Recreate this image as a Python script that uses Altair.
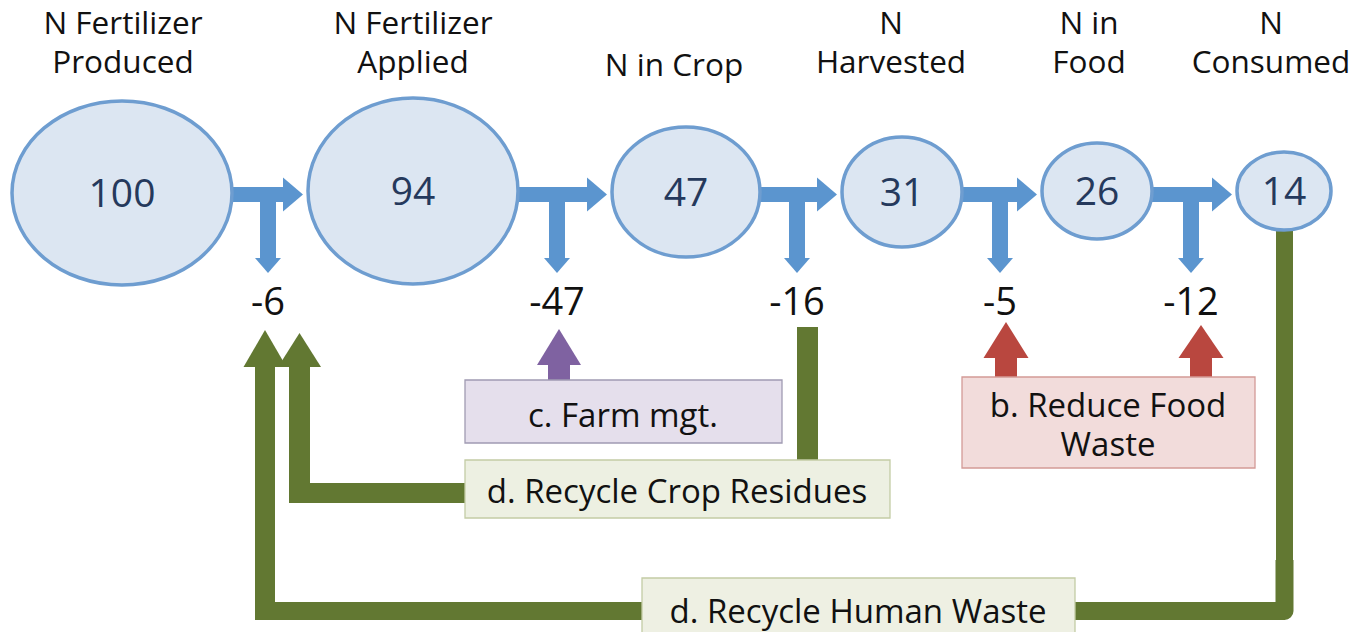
import altair as alt
import pandas as pd

# ---------------- data ----------------
NODE_TITLES = ["N Fertilizer\nProduced", "N Fertilizer\nApplied", "N in Crop",
               "N\nHarvested", "N in\nFood", "N\nConsumed"]
NODE_VALUES = [100, 94, 47, 31, 26, 14]
LOSS_VALUES = [-6, -47, -16, -5, -12]
STRATEGY_LABELS = ["c. Farm mgt.", "d. Recycle Crop Residues",
                   "b. Reduce Food\nWaste", "d. Recycle Human Waste"]

# ---------------- layout (pixel positions of the diagram) ----------------
NODE_CX = [122, 413, 686, 902, 1097, 1284]
NODE_CY = [193, 191, 192, 192, 191, 191]
NODE_RX = [110, 105, 74, 60, 55, 47]
NODE_RY = [92, 93, 65, 55, 48, 39]
TITLE_CX = [123, 413, 674, 891, 1089, 1271]
TITLE_Y = [34, 34, 76, 34, 34, 34]
LOSS_X = [268, 557, 797, 1000, 1191]

STRAT_BOX = [(465, 782, 380, 443), (465, 890, 460, 518), (962, 1255, 377, 468), (642, 1075, 578, 660)]
STRAT_TEXT_X = [623, 677, 1108, 858]
STRAT_TEXT_Y = [427, 503, 417, 623]
STRAT_FILL = ["#e5dfec", "#edf0e2", "#f2dcdb", "#eef0e3"]
STRAT_STROKE = ["#a09bb2", "#c3cca5", "#d39a97", "#c3cca5"]

BLUE = "#5b95cf"
GREEN = "#627832"
PURPLE = "#7f62a1"
RED = "#b9473f"
FONT = "Open Sans"

# ---------------- build tables ----------------
rects = []   # x, x2, y, y2, color
heads = []   # x, y, path, size, color


def head_up(tx, ty, yb, w, color):
    h = (yb - ty) / w
    heads.append(dict(x=tx, y=(ty + yb) / 2, path=f"M-1,{h:.3f}L1,{h:.3f}L0,{-h:.3f}Z", size=w * w, color=color))


def head_down(tx, ty, yb, w, color):
    h = (ty - yb) / w
    heads.append(dict(x=tx, y=(ty + yb) / 2, path=f"M-1,{-h:.3f}L1,{-h:.3f}L0,{h:.3f}Z", size=w * w, color=color))


def head_right(tx, ty, xb, hgt, color):
    h = (tx - xb) / hgt
    heads.append(dict(x=(tx + xb) / 2, y=ty, path=f"M{-h:.3f},-1L{h:.3f},0L{-h:.3f},1Z", size=hgt * hgt, color=color))


# green recycle paths (drawn first, under everything)
rects += [
    dict(x=1276, x2=1293, y=225, y2=612, color=GREEN),
    dict(x=255, x2=1285, y=602, y2=620, color=GREEN),
    dict(x=255, x2=275, y=366, y2=620, color=GREEN),
    dict(x=797, x2=818, y=327, y2=462, color=GREEN),
    dict(x=289, x2=470, y=483, y2=503, color=GREEN),
    dict(x=289, x2=310, y=366, y2=503, color=GREEN),
]
head_up(265, 330, 367, 43, GREEN)
head_up(299.5, 333, 367, 43, GREEN)

# blue flow arrows with T-shaped losses
for i in range(5):
    x_start = NODE_CX[i] + NODE_RX[i] - 6
    tip = NODE_CX[i + 1] - NODE_RX[i + 1] - 5
    rects.append(dict(x=x_start, x2=tip - 19, y=187, y2=202, color=BLUE))
    head_right(tip, 194.5, tip - 20, 34, BLUE)
    rects.append(dict(x=LOSS_X[i] - 8, x2=LOSS_X[i] + 8, y=195, y2=260, color=BLUE))
    head_down(LOSS_X[i], 273, 258, 26, BLUE)

# strategy arrows
rects += [
    dict(x=548, x2=570, y=363, y2=381, color=PURPLE),
    dict(x=995, x2=1017, y=356, y2=378, color=RED),
    dict(x=1190, x2=1212, y=356, y2=378, color=RED),
]
head_up(559, 329, 365, 44, PURPLE)
head_up(1006, 322, 358, 45, RED)
head_up(1201, 325, 358, 45, RED)

rect_df = pd.DataFrame(rects)
head_df = pd.DataFrame(heads)

# rounded outer corner of the human-waste loop
corner_df = pd.DataFrame([dict(x=1284.5, y=560, o=0), dict(x=1284.5, y=611, o=1), dict(x=1230, y=611, o=2)])

# ellipses
ell = []
for i, v in enumerate(NODE_VALUES):
    k = NODE_RY[i] / NODE_RX[i]
    path = f"M-1,0A1,{k:.4f} 0 1,0 1,0A1,{k:.4f} 0 1,0 -1,0Z"
    ell.append(dict(x=NODE_CX[i], y=NODE_CY[i], path=path, size=(2 * NODE_RX[i]) ** 2, value=v))
ell_df = pd.DataFrame(ell)

# boxes
box_df = pd.DataFrame([dict(x=b[0], x2=b[1], y=b[2], y2=b[3], fill=f, stroke=s)
                       for b, f, s in zip(STRAT_BOX, STRAT_FILL, STRAT_STROKE)])

# texts
texts = []
for i, t in enumerate(NODE_TITLES):
    texts.append(dict(x=TITLE_CX[i], y=TITLE_Y[i], text=t, size=31.5, color="#111111"))
for i, v in enumerate(NODE_VALUES):
    texts.append(dict(x=NODE_CX[i], y=NODE_CY[i] + 14, text=str(v), size=39, color="#25395c"))
for i, v in enumerate(LOSS_VALUES):
    texts.append(dict(x=LOSS_X[i], y=315, text=str(v), size=38, color="#111111"))
for i, t in enumerate(STRATEGY_LABELS):
    texts.append(dict(x=STRAT_TEXT_X[i], y=STRAT_TEXT_Y[i], text=t, size=33, color="#111111"))
text_df = pd.DataFrame(texts)

# ---------------- chart ----------------
xs = alt.Scale(domain=[8, 1351], nice=False, zero=False)
ys = alt.Scale(domain=[8, 632], nice=False, zero=False, reverse=True)
X = alt.X("x:Q", scale=xs, axis=None)
Y = alt.Y("y:Q", scale=ys, axis=None)

green_layer = alt.Chart(rect_df).mark_rect().encode(
    x=X, x2="x2:Q", y=Y, y2="y2:Q", color=alt.Color("color:N", scale=None))

corner_layer = alt.Chart(corner_df).mark_line(
    color=GREEN, strokeWidth=18, strokeJoin="round", strokeCap="butt").encode(
    x=X, y=Y, order="o:Q")

head_layer = alt.Chart(head_df).mark_point(filled=True, opacity=1, strokeWidth=0).encode(
    x=X, y=Y, shape=alt.Shape("path:N", scale=None), size=alt.Size("size:Q", scale=None),
    color=alt.Color("color:N", scale=None))

ell_layer = alt.Chart(ell_df).mark_point(
    filled=True, opacity=1, fill="#dce6f2", stroke="#6e9dd0", strokeWidth=3.5).encode(
    x=X, y=Y, shape=alt.Shape("path:N", scale=None), size=alt.Size("size:Q", scale=None))

box_layer = alt.Chart(box_df).mark_rect(strokeWidth=1.3).encode(
    x=X, x2="x2:Q", y=Y, y2="y2:Q",
    fill=alt.Fill("fill:N", scale=None), stroke=alt.Stroke("stroke:N", scale=None))

text_layer = alt.Chart(text_df).mark_text(
    font=FONT, align="center", baseline="alphabetic", lineBreak="\n", lineHeight=38.5).encode(
    x=X, y=Y, text="text:N", size=alt.Size("size:Q", scale=None), color=alt.Color("color:N", scale=None))

chart = alt.layer(green_layer, corner_layer, head_layer, ell_layer, box_layer, text_layer).properties(
    width=1343, height=624, padding=0, autosize="none", background="white"
).configure_view(stroke=None)

chart.save("out.html", embed_options={"renderer": "svg", "actions": False})
